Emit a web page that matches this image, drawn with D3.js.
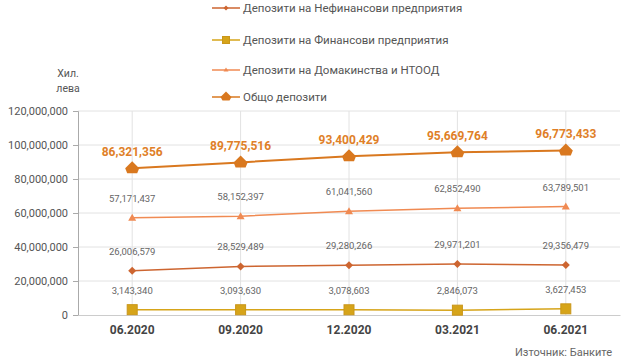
<!DOCTYPE html>
<html>
<head>
<meta charset="utf-8">
<script src="https://cdn.jsdelivr.net/npm/d3@7"></script>
<style>
  body { margin: 0; background: #fff; }
  svg { font-family: Roboto, "Liberation Sans", sans-serif; }
</style>
</head>
<body>
<svg width="627" height="361"></svg>
<script>
var periods = ["06.2020", "09.2020", "12.2020", "03.2021", "06.2021"];
var nonFinancial = [26006579, 28529489, 29280266, 29971201, 29356479];
var financial = [3143340, 3093630, 3078603, 2846073, 3627453];
var households = [57171437, 58152397, 61041560, 62852490, 63789501];
var total = [86321356, 89775516, 93400429, 95669764, 96773433];
var yTicks = [0, 20000000, 40000000, 60000000, 80000000, 100000000, 120000000];

var series = [
  {name: "Депозити на Нефинансови предприятия", values: nonFinancial, color: "#cd6530", marker: "diamond", size: 4},
  {name: "Депозити на Финансови предприятия", values: financial, color: "#d6a419", marker: "square", size: 5},
  {name: "Депозити на Домакинства и НТООД", values: households, color: "#f08a52", marker: "triangle", size: 4},
  {name: "Общо депозити", values: total, color: "#d9781f", marker: "big", size: 7}
];

var svg = d3.select("svg");
var fmt = d3.format(",");

var x = d3.scaleBand().domain(periods).range([78, 620]);
var y = d3.scaleLinear().domain([0, 120000000]).range([315, 111]);
function cx(d) { return x(d) + x.bandwidth() / 2; }

// grid
svg.append("g").selectAll("line").data(yTicks.slice(1)).enter().append("line")
  .attr("x1", 78).attr("x2", 620)
  .attr("y1", function(d) { return y(d); }).attr("y2", function(d) { return y(d); })
  .style("stroke", "#e2e2e2");
svg.append("g").selectAll("line").data(periods).enter().append("line")
  .attr("x1", cx).attr("x2", cx)
  .attr("y1", y(120000000)).attr("y2", y(0))
  .style("stroke", "#e2e2e2");

// axes
var yAxis = svg.append("g").attr("transform", "translate(78,0)")
  .call(d3.axisLeft(y).tickValues(yTicks).tickFormat(fmt).tickSize(5).tickPadding(5));
yAxis.select(".domain").style("stroke", "#aaa");
yAxis.selectAll(".tick line").style("stroke", "#aaa");
yAxis.selectAll("text").style("font-size", "11px").style("fill", "#555").style("font-family", "Roboto");

var xAxis = svg.append("g").attr("transform", "translate(0,315)")
  .call(d3.axisBottom(x).tickSize(0).tickPadding(10));
xAxis.select(".domain").style("stroke", "#ccc");
xAxis.selectAll("text").style("font-size", "12px").style("font-weight", "bold").style("fill", "#444").style("font-family", "Roboto");

// markers
function drawMarker(g, s, px, py) {
  var r = s.size;
  if (s.marker == "square") {
    g.append("rect").attr("x", px - r).attr("y", py - r).attr("width", 2 * r).attr("height", 2 * r)
      .style("fill", s.color).style("stroke", "#c9961a");
  } else if (s.marker == "triangle") {
    g.append("path").attr("d", "M" + px + "," + (py - r) + "L" + (px + r) + "," + (py + r - 1) + "L" + (px - r) + "," + (py + r - 1) + "Z")
      .style("fill", s.color);
  } else if (s.marker == "big") {
    g.append("path").attr("d", "M" + px + "," + (py - r) + "L" + (px + r) + "," + py + "L" + (px + r - 2) + "," + (py + r - 2) + "L" + (px - r + 2) + "," + (py + r - 2) + "L" + (px - r) + "," + py + "Z")
      .style("fill", s.color);
  } else {
    g.append("path").attr("d", "M" + px + "," + (py - r) + "L" + (px + r) + "," + py + "L" + px + "," + (py + r) + "L" + (px - r) + "," + py + "Z")
      .style("fill", s.color);
  }
}

var line = d3.line().x(function(d, i) { return cx(periods[i]); }).y(function(d) { return y(d); });

series.forEach(function(s, k) {
  var g = svg.append("g");
  g.append("path").datum(s.values).attr("d", line)
    .style("fill", "none").style("stroke", s.color).style("stroke-width", k == 3 ? 2 : 1.5);
  s.values.forEach(function(v, i) {
    drawMarker(g, s, cx(periods[i]), y(v));
  });
  g.selectAll("text").data(s.values).enter().append("text")
    .attr("x", function(d, i) { return cx(periods[i]); })
    .attr("y", function(d) { return y(d) - (k == 3 ? 12 : 16); })
    .attr("text-anchor", "middle")
    .style("font-size", k == 3 ? "12px" : "9.5px")
    .style("font-weight", k == 3 ? "bold" : "normal")
    .style("fill", k == 3 ? "#e07f28" : "#666")
    .text(function(d) { return fmt(d); });
});

// legend
var legendY = [8, 40, 70, 97];
series.forEach(function(s, k) {
  var g = svg.append("g").attr("transform", "translate(212," + legendY[k] + ")");
  g.append("line").attr("x1", 0).attr("x2", 28).attr("y1", 0).attr("y2", 0)
    .style("stroke", s.color).style("stroke-width", 1.5);
  drawMarker(g, {marker: s.marker, color: s.color, size: k == 3 ? 5.5 : (k == 1 ? 3.5 : 2.5)}, 14, 0);
  g.append("text").attr("x", 31).attr("y", 4).style("font-size", "11.5px").style("fill", "#555").text(s.name);
});

// unit label
svg.append("text").attr("x", 68).attr("y", 77).attr("text-anchor", "middle")
  .style("font-size", "10.5px").style("fill", "#555").text("Хил.");
svg.append("text").attr("x", 68).attr("y", 92).attr("text-anchor", "middle")
  .style("font-size", "10.5px").style("fill", "#555").text("лева");

// source
svg.append("text").attr("x", 612).attr("y", 356).attr("text-anchor", "end")
  .style("font-size", "11px").style("fill", "#666").text("Източник: Банките");
</script>
</body>
</html>
